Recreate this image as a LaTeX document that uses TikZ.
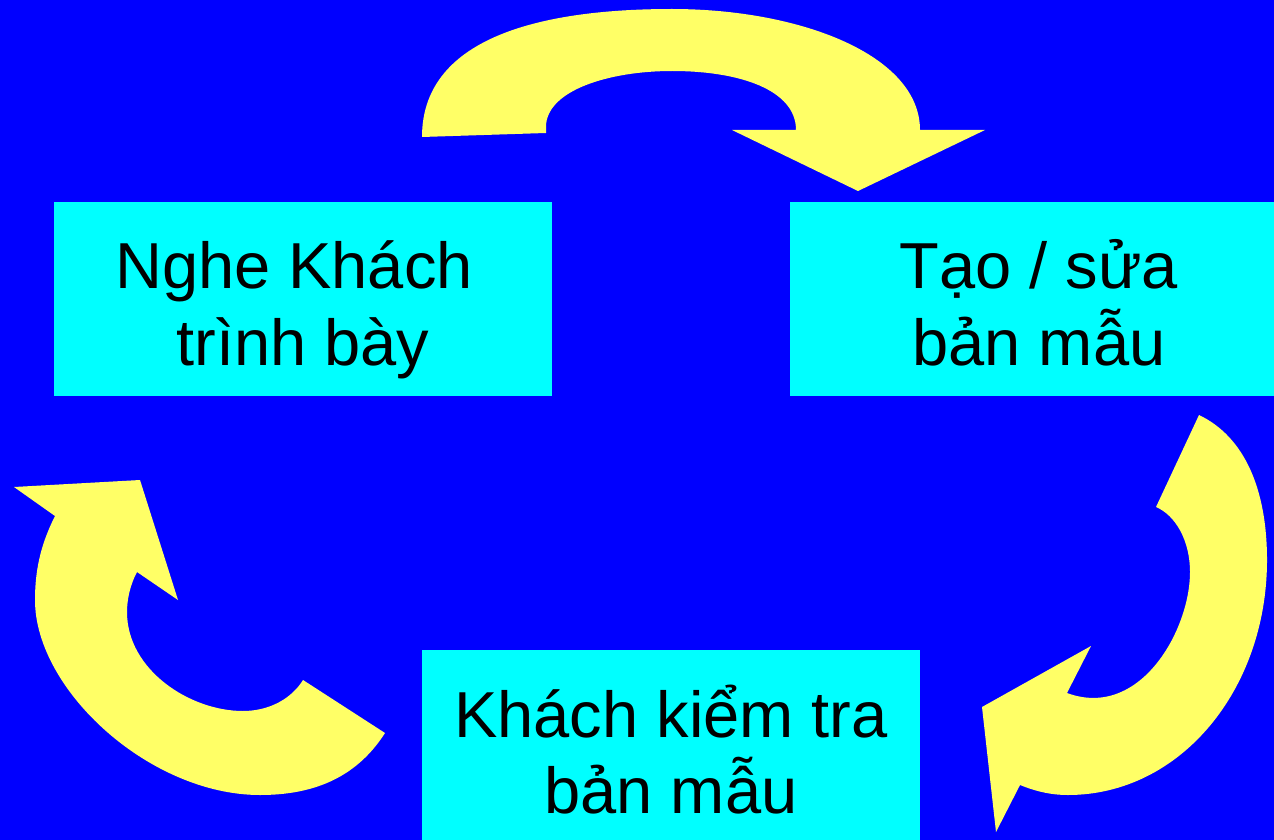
\documentclass[tikz,border=0pt]{standalone}
\usepackage{fontspec}
\setmainfont{Liberation Sans}
\definecolor{bgblue}{HTML}{0000FF}
\definecolor{boxcyan}{HTML}{00FFFF}
\definecolor{arrowyellow}{HTML}{FFFF66}
\begin{document}
\begin{tikzpicture}[x=1pt,y=-1pt,
  box/.style={fill=boxcyan, draw=none, inner sep=0pt},
  lbl/.style={font=\fontsize{65}{77}\selectfont, text=black, anchor=base, inner sep=0pt},
  cyclearrow/.style={fill=arrowyellow, draw=none}]
\fill[bgblue] (0,0) rectangle (1274,840);
\useasboundingbox (0,0) rectangle (1274,840);

% boxes
\node[box, minimum width=498pt, minimum height=194pt] (listen) at (303,299) {};
\node[box, minimum width=484pt, minimum height=194pt] (build) at (1032,299) {};
\node[box, minimum width=498pt, minimum height=190pt] (test) at (671,745) {};

% labels
\node[lbl] (listen1) at (294,288) {Nghe Khách};
\node[lbl] (listen2) at (303,365) {trình bày};
\node[lbl] (build1) at (1039,288) {Tạo / sửa};
\node[lbl] (build2) at (1039,365) {bản mẫu};
\node[lbl] (test1) at (671,737) {Khách kiểm tra};
\node[lbl] (test2) at (671,813) {bản mẫu};

% top arrow
\fill[cyclearrow] (422,137)
  .. controls (422,40) and (535,9) .. (672,9)
  .. controls (800,9) and (920,55) .. (920,130)
  -- (985,130) -- (858,191) -- (732,130) -- (796,130)
  .. controls (796,90) and (740,71) .. (672,71)
  .. controls (610,71) and (546,90) .. (546,127)
  -- (546,133) -- cycle;

% right arrow
\fill[cyclearrow] (1199,415)
  .. controls (1245,437) and (1267,490) .. (1267,560)
  .. controls (1267,690) and (1180,795) .. (1068,795)
  .. controls (1050,795) and (1035,791) .. (1020,785)
  -- (996,832) -- (982,707) -- (1091,646) -- (1067,693)
  .. controls (1140,720) and (1190,630) .. (1190,572)
  .. controls (1190,540) and (1175,515) .. (1156,507)
  -- cycle;

% left arrow
\fill[cyclearrow] (385,733)
  .. controls (355,780) and (310,795) .. (260,795)
  .. controls (150,795) and (35,690) .. (35,600)
  .. controls (35,565) and (43,540) .. (55,516)
  -- (14,487) -- (140,480) -- (178,600) -- (137,572)
  .. controls (130,585) and (127,600) .. (127,612)
  .. controls (127,670) and (190,711) .. (243,711)
  .. controls (270,711) and (292,698) .. (303,680)
  -- cycle;
\end{tikzpicture}
\end{document}
